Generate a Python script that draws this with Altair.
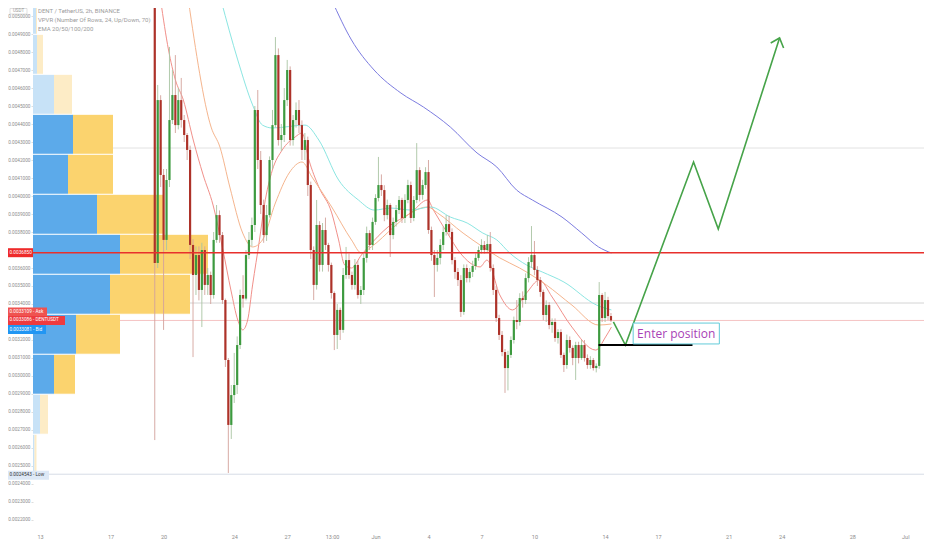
import numpy as np
import pandas as pd
import altair as alt

UNIT = 1e-6  # prices below are written in millionths of USDT: 3685 -> 0.0036850

# 4h candles from 19 May 12:00 (open of the first bar, then close / high / low)
candle_start = "2021-05-19 12:00"
first_open = 7400
close = [
    3628, 4533, 4117, 3756, 4089, 4422, 4561, 4394, 4533, 4422,
    4339, 4256, 3728, 3561, 3672, 3478, 3700, 3506, 3561, 3450,
    3756, 3894, 3783, 3422, 3089, 2728, 2894, 2950, 3172, 3450,
    3430, 3672, 3756, 3839, 4478, 4200, 3950, 3783, 3894, 4200,
    4394, 4783, 4311, 4339, 4533, 4700, 4311, 4422, 4478, 4394,
    4256, 4311, 4061, 3700, 3506, 3839, 3617, 3811, 3728, 3617,
    3461, 3228, 3367, 3256, 3561, 3644, 3561, 3506, 3617, 3450,
    3478, 3656, 3794, 3728, 3856, 3989, 4061, 4033, 3894, 3950,
    3783, 3856, 3922, 3978, 3878, 3978, 4061, 3878, 3978, 4144,
    4006, 4061, 4133, 3811, 3672, 3617, 3656, 3728, 3800, 3844,
    3800, 3644, 3578, 3533, 3356, 3600, 3544, 3578, 3611, 3656,
    3700, 3728, 3700, 3733, 3600, 3478, 3322, 3228, 3133, 3044,
    3117, 3200, 3311, 3300, 3433, 3422, 3544, 3633, 3672, 3589,
    3533, 3467, 3339, 3394, 3283, 3300, 3211, 3244, 3117, 3061,
    3200, 3156, 3100, 3172, 3100, 3172, 3100, 3061, 3089, 3044,
    3056, 3450, 3322, 3422, 3333, 3309,
]
high = [
    7800, 4617, 4560, 4150, 4150, 4828, 4700, 4783, 4600, 4656,
    4450, 4350, 4280, 3760, 3720, 3720, 3740, 3720, 3600, 3580,
    3800, 3950, 3920, 3800, 3430, 3100, 2950, 3128, 3220, 3480,
    3560, 3700, 3800, 3880, 4500, 4589, 4250, 3980, 3950, 4220,
    4478, 4883, 4820, 4400, 4600, 4756, 4720, 4450, 4520, 4533,
    4420, 4350, 4330, 4080, 3720, 3978, 3860, 3850, 3880, 3740,
    3630, 3470, 3400, 3380, 3600, 3717, 3680, 3580, 3650, 3640,
    3500, 3680, 3830, 3810, 3880, 4010, 4217, 4120, 4060, 3980,
    3960, 3880, 3950, 4000, 3990, 4010, 4090, 4080, 4000, 4294,
    4160, 4090, 4160, 4200, 3830, 3700, 3700, 3760, 3830, 3894,
    3890, 3820, 3660, 3600, 3560, 3620, 3620, 3600, 3640, 3680,
    3720, 3760, 3750, 3783, 3800, 3620, 3500, 3340, 3250, 3150,
    3140, 3220, 3330, 3422, 3460, 3470, 3570, 3660, 3833, 3750,
    3610, 3550, 3480, 3420, 3410, 3320, 3320, 3260, 3260, 3130,
    3230, 3220, 3170, 3190, 3190, 3200, 3200, 3120, 3110, 3100,
    3070, 3522, 3460, 3467, 3440, 3350,
]
low = [
    2644, 3600, 4050, 3256, 3700, 4050, 4400, 4350, 4370, 4380,
    4300, 4200, 3650, 3105, 3450, 3420, 3272, 3450, 3450, 3400,
    3430, 3740, 3740, 3400, 3050, 2461, 2650, 2850, 2900, 3150,
    3380, 3420, 3650, 3720, 3800, 4150, 3900, 3740, 3750, 3880,
    4150, 4380, 4280, 4250, 4300, 4500, 4280, 4280, 4380, 4350,
    4200, 4200, 4000, 3650, 3422, 3480, 3580, 3580, 3700, 3580,
    3430, 3144, 3150, 3200, 3240, 3540, 3540, 3480, 3480, 3430,
    3400, 3450, 3630, 3700, 3700, 3840, 3970, 4000, 3860, 3870,
    3661, 3760, 3830, 3900, 3850, 3850, 3960, 3850, 3860, 3960,
    3970, 3980, 4040, 3790, 3640, 3439, 3580, 3620, 3700, 3780,
    3780, 3620, 3540, 3500, 3328, 3340, 3520, 3520, 3550, 3590,
    3640, 3680, 3680, 3690, 3580, 3450, 3300, 3200, 3110, 2906,
    2920, 3100, 3180, 3260, 3280, 3380, 3400, 3520, 3600, 3560,
    3500, 3440, 3310, 3300, 3260, 3240, 3190, 3180, 3100, 3022,
    3040, 3130, 3060, 2978, 3070, 3090, 3080, 3040, 3040, 3030,
    3020, 3040, 3300, 3300, 3310, 3300,
]

# EMA curves: days after 13 May 00:00, price
ema20_day = [6.83, 7.28, 7.67, 8.12, 8.68, 9.24, 9.80, 10.36, 10.81, 11.20, 11.48,
             11.76, 12.04, 12.43, 12.71, 13.16, 13.72, 14.45, 14.84, 15.23, 15.79,
             16.52, 16.91, 17.25, 17.64, 18.20, 18.59, 19.71, 21.00, 21.95, 22.28,
             23.07, 23.80, 24.92, 25.31, 26.04, 26.76, 27.55, 28.28, 29.00, 30.12,
             31.47, 32.03, 32.36]
ema20_val = [5089, 4811, 4645, 4533, 4311, 4117, 3950, 3700, 3478, 3311, 3256,
             3311, 3506, 3756, 3950, 4144, 4256, 4328, 4350, 4200, 4050,
             3906, 3756, 3617, 3600, 3672, 3717, 3828, 3906, 3978, 3922,
             3794, 3683, 3606, 3644, 3450, 3367, 3461, 3533, 3439, 3272,
             3144, 3217, 3272]
ema50_day = [8.40, 9.69, 10.19, 10.75, 11.48, 12.04, 12.60, 13.33, 14.11, 14.84,
             15.40, 16.52, 17.64, 18.20, 18.76, 20.04, 21.00, 21.95, 22.51, 23.96,
             25.08, 26.04, 27.16, 28.67, 30.12, 31.63, 32.36]
ema50_val = [5089, 4383, 4272, 4050, 3794, 3717, 3756, 3961, 4128, 4189,
             4106, 3939, 3756, 3683, 3717, 3828, 3906, 3939, 3906, 3794,
             3717, 3656, 3600, 3506, 3394, 3283, 3289]
ema100_day = [10.25, 11.20, 12.04, 12.60, 13.16, 15.01, 15.79, 16.91, 18.03, 18.92,
              19.88, 21.00, 22.12, 23.24, 24.19, 25.08, 25.87, 26.60, 27.55, 28.44,
              29.67, 31.52, 32.36]
ema100_val = [5089, 4756, 4506, 4394, 4378, 4394, 4311, 4089, 3978, 3922,
              3933, 3922, 3939, 3883, 3850, 3794, 3756, 3683, 3617, 3578,
              3522, 3394, 3367]
ema200_day = [16.52, 17.64, 18.92, 20.44, 21.72, 23.24, 24.75, 25.87, 26.99, 27.88,
              29.56, 30.68, 31.63, 32.36]
ema200_val = [5089, 4867, 4700, 4572, 4494, 4383, 4239, 4161, 4033, 3978,
              3883, 3794, 3717, 3683]

# visible-range volume profile: 24 rows upward from the low, up (blue) / down (yellow)
vp_low, vp_high = 2454.3, 7787.1
vp_up = [1.5, 7, 21, 43, 77, 87, 64, 35, 40, 21, 4, 3,
         2, 2, 1.5, 1.5, 1, 1, 1, 1, 0.8, 0.8, 0.5, 0.5]
vp_down = [2, 8, 21, 44, 80, 88, 66, 45, 40, 18, 6, 1,
           2, 1.5, 1.5, 1, 1, 1, 1, 0.8, 0.8, 0.5, 0.5, 0.5]
vp_value_area = [False, False, True, True, True, True, True, True, True, False, False, False,
                 False, False, False, False, False, False, False, False, False, False, False, False]

# drawings
level_red = 3685
level_grey_hi = 4266.7
level_grey_lo = 3405.5
last_price = 3308.6
low_price = 2454.3
path_day = [32.47, 33.15, 37.01, 38.41, 41.88]
path_val = [3300, 3172, 4189, 3817, 4878]
head_day = [41.38, 41.88, 42.11]
head_val = [4850, 4878, 4822]
entry_day = [31.63, 36.95]
entry_val = 3172
note_day = [33.59, 38.47]
note_val = [3178, 3294]
note_text = "Enter position"

tag_price = [3685, 3310.9, 3308.6, 3308.1, 2454.3]
tag_text = ["0.0036850", "0.0033109 - Ask", "0.0033086 - DENTUSDT", "0.0033081 - Bid", "0.0024543 - Low"]
legend_lines = ["DENT / TetherUS, 2h, BINANCE", "VPVR (Number Of Rows, 24, Up/Down, 70)", "EMA 20/50/100/200"]

# price-scale labels; 0.0037 and 0.0033 sit under the price tags and are not shown
y_ticks = [0.0022, 0.0023, 0.0024, 0.0025, 0.0026, 0.0027, 0.0028, 0.0029, 0.0030, 0.0031,
           0.0032, 0.0034, 0.0035, 0.0036, 0.0038, 0.0039, 0.0040, 0.0041, 0.0042, 0.0043,
           0.0044, 0.0045, 0.0046, 0.0047, 0.0048, 0.0049, 0.0050]
x_ticks = ["2021-05-13", "2021-05-17", "2021-05-20", "2021-05-24", "2021-05-27",
           "2021-05-29 13:00", "2021-06-01", "2021-06-04", "2021-06-07", "2021-06-10",
           "2021-06-14", "2021-06-17", "2021-06-21", "2021-06-24", "2021-06-28", "2021-07-01"]

base_day = pd.Timestamp("2021-05-13")


def on_day(days):
    return base_day + pd.to_timedelta(pd.Series(days, dtype=float), unit="D")


def dt(s):
    t = pd.Timestamp(s)
    return alt.DateTime(year=t.year, month=t.month, date=t.day, hours=t.hour, minutes=t.minute)


LABEL = "#8c8c8c"
x_scale = alt.Scale(domain=[dt("2021-05-12 21:19"), dt("2021-07-01 18:38")])
x_axis = alt.Axis(values=[dt(s) for s in x_ticks],
                  labelExpr="hours(datum.value) == 13 ? '13:00' : date(datum.value) == 1 ? "
                            "timeFormat(datum.value, '%b') : timeFormat(datum.value, '%-d')",
                  labelFontSize=5.5, labelColor=LABEL, labelFont="Roboto", labelPadding=6,
                  domain=False, ticks=False, grid=False, labelFlush=False, labelOverlap=False)
y_scale = alt.Scale(domain=[0.0021554, 0.0050446], nice=False, zero=False)
y_axis = alt.Axis(values=y_ticks, format=".7f",
                  labelFontSize=4.7, labelColor=LABEL, labelFont="Roboto", labelPadding=1,
                  domain=False, ticks=True, tickSize=2, tickColor="#c8c8c8", tickWidth=0.6,
                  grid=False, labelOverlap=False)


def X(field):
    return alt.X(f"{field}:T", scale=x_scale, axis=x_axis, title=None)


def Y(field):
    return alt.Y(f"{field}:Q", scale=y_scale, axis=y_axis, title=None)


def level(price, color, width=1.0):
    return alt.Chart(pd.DataFrame({"p": [price * UNIT]})).mark_rule(
        color=color, strokeWidth=width).encode(y=Y("p"))


# candles
candles = pd.DataFrame({
    "t": pd.date_range(candle_start, periods=len(close), freq="4h"),
    "open": np.array([first_open] + close[:-1]) * UNIT,
    "close": np.array(close) * UNIT,
    "high": np.array(high) * UNIT,
    "low": np.array(low) * UNIT,
})
is_up = "datum.close >= datum.open"
wicks = alt.Chart(candles).mark_rule(strokeWidth=0.9, clip=True).encode(
    x=X("t"), y=Y("low"), y2="high",
    color=alt.condition(is_up, alt.value("#a9c4a3"), alt.value("#d2a19b")))
bodies = alt.Chart(candles).mark_bar(width=2.2, clip=True).encode(
    x=X("t"), y=Y("open"), y2="close",
    color=alt.condition(is_up, alt.value("#3d9a3f"), alt.value("#ad3229")))


def ema(days, vals, color):
    d = pd.DataFrame({"t": on_day(days), "v": np.array(vals) * UNIT})
    return alt.Chart(d).mark_line(color=color, strokeWidth=1, clip=True,
                                  interpolate="monotone").encode(x=X("t"), y=Y("v"))


emas = [ema(ema20_day, ema20_val, "#f1908a"), ema(ema50_day, ema50_val, "#f5b58e"),
        ema(ema100_day, ema100_val, "#8be6e2"), ema(ema200_day, ema200_val, "#7c7ce0")]

# volume profile rows
edges = np.linspace(vp_low, vp_high, 25) * UNIT
vp_rows = []
for k in range(24):
    blue = "#5caaea" if vp_value_area[k] else "#c7e2f7"
    yellow = "#fbd36e" if vp_value_area[k] else "#fdecc6"
    vp_rows.append({"x0": 0, "x1": vp_up[k], "lo": edges[k], "hi": edges[k + 1], "c": blue})
    vp_rows.append({"x0": vp_up[k], "x1": vp_up[k] + vp_down[k], "lo": edges[k], "hi": edges[k + 1], "c": yellow})
vp_bars = alt.Chart(pd.DataFrame(vp_rows)).mark_rect(clip=True).encode(
    x=alt.X("x0:Q", scale=alt.Scale(domain=[0, 891]), axis=None), x2="x1",
    y=Y("lo"), y2="hi", color=alt.Color("c:N", scale=None))
vp_gaps = alt.Chart(pd.DataFrame({"p": edges[1:-1]})).mark_rule(
    color="white", strokeWidth=1, clip=True).encode(x=alt.value(0), x2=alt.value(180), y=Y("p"))

# drawings on the right
path = alt.Chart(pd.DataFrame({"t": on_day(path_day), "v": np.array(path_val) * UNIT,
                               "i": range(len(path_day))})).mark_line(
    color="#46a349", strokeWidth=1.6).encode(x=X("t"), y=Y("v"), order="i:Q")
head = alt.Chart(pd.DataFrame({"t": on_day(head_day), "v": np.array(head_val) * UNIT,
                               "i": range(len(head_day))})).mark_line(
    color="#46a349", strokeWidth=1.6).encode(x=X("t"), y=Y("v"), order="i:Q")
entry_t = on_day(entry_day)
entry = alt.Chart(pd.DataFrame({"t0": [entry_t[0]], "t1": [entry_t[1]], "v": [entry_val * UNIT]})).mark_rule(
    color="black", strokeWidth=2).encode(x=X("t0"), x2="t1", y=Y("v"))
note_t = on_day(note_day)
note_df = pd.DataFrame({"t0": [note_t[0]], "t1": [note_t[1]], "lo": [note_val[0] * UNIT],
                        "hi": [note_val[1] * UNIT], "tm": [note_t[0] + (note_t[1] - note_t[0]) / 2],
                        "vm": [(note_val[0] + note_val[1]) / 2 * UNIT], "txt": [note_text]})
note_box = alt.Chart(note_df).mark_rect(fill="white", fillOpacity=0.85, stroke="#62cbd9",
                                        strokeWidth=1).encode(x=X("t0"), x2="t1", y=Y("lo"), y2="hi")
note_label = alt.Chart(note_df).mark_text(color="#a83fb6", fontSize=12, font="Open Sans").encode(
    x=X("tm"), y=Y("vm"), text="txt:N")

# price tags on the scale
tag_style = [("#ee2a2a", "white", 0, 0), ("#ef5350", "white", 14, -8), ("#ee3b3f", "white", 32, 0),
             ("#2196f3", "white", 13, 9), ("#dde8f6", "#333333", 16, 1)]
tags = []
for p, txt, (bg, fg, right, off) in zip(tag_price, tag_text, tag_style):
    d = pd.DataFrame({"p": [p * UNIT], "txt": [txt]})
    tags.append(alt.Chart(d).mark_rule(color=bg, strokeWidth=9, strokeCap="butt", yOffset=off).encode(
        x=alt.value(-25), x2=alt.value(right), y=Y("p")))
    tags.append(alt.Chart(d).mark_text(color=fg, fontSize=4.7, font="Roboto", align="left", dy=off).encode(
        x=alt.value(-23.5), y=Y("p"), text="txt:N"))

usdt_box = alt.Chart(pd.DataFrame({"txt": ["USDT"]})).mark_rect(
    fill="white", stroke="#cccccc", strokeWidth=0.6).encode(
    x=alt.value(-23), x2=alt.value(-6), y=alt.value(0.5), y2=alt.value(6))
usdt_text = alt.Chart(pd.DataFrame({"txt": ["USDT"]})).mark_text(
    color="#999999", fontSize=4.5, font="Roboto").encode(x=alt.value(-14.5), y=alt.value(3.3), text="txt:N")

# indicator legend, top left of the pane
legend = [
    alt.Chart(pd.DataFrame({"txt": [line]})).mark_text(
        color="#9b9b9b", fontSize=6, font="Roboto", align="left", baseline="middle").encode(
        x=alt.value(5), y=alt.value(3 + 9 * i), text="txt:N")
    for i, line in enumerate(legend_lines)
]

background = alt.layer(
    level(level_grey_hi, "#e2e2e2"),
    level(level_grey_lo, "#d4d4d4"),
    level(last_price, "#f5c3c3"),
    level(low_price, "#d6dce6"),
    *legend,
)
profile = alt.layer(vp_bars, vp_gaps)
main = alt.layer(
    *emas, wicks, bodies,
    level(level_red, "#e8302c", 1.5),
    path, head, entry, note_box, note_label,
    *tags, usdt_box, usdt_text,
)

chart = alt.layer(background, profile, main).resolve_scale(
    x="independent", y="shared"
).properties(
    width=891,
    height=520,
    autosize=alt.AutoSizeParams(type="none"),
    padding={"left": 25, "top": 0, "right": 0, "bottom": 12},
    background="white",
).configure_view(strokeWidth=0)

chart.save("out.html", embed_options={"renderer": "svg", "actions": False})
